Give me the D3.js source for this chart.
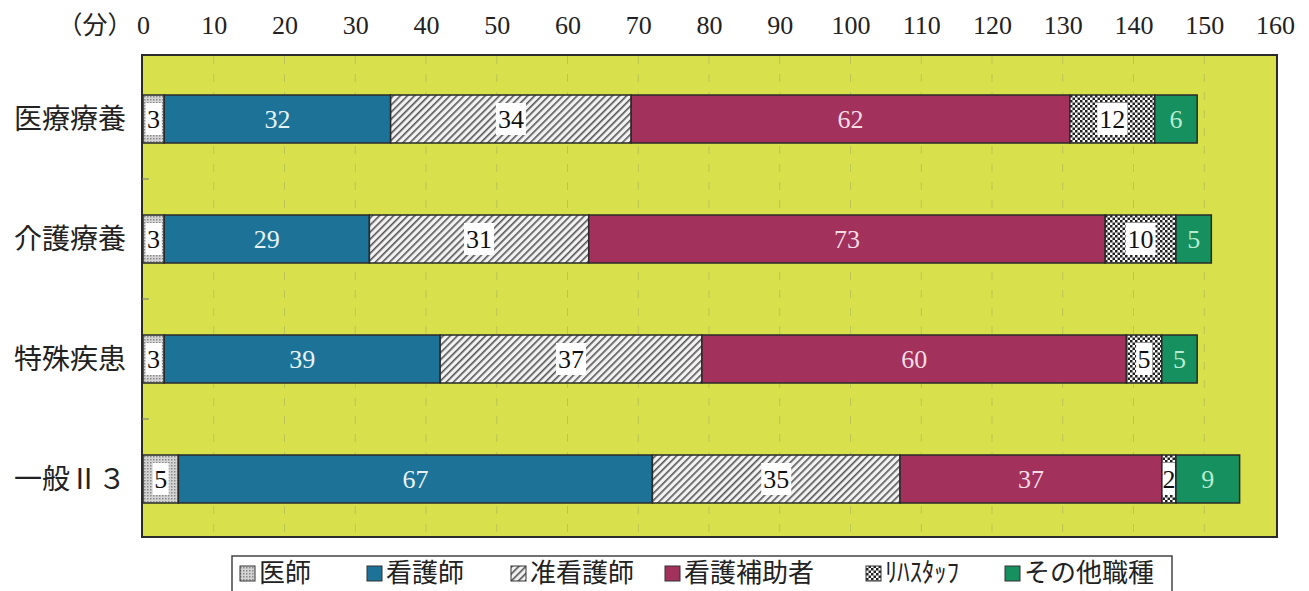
<!DOCTYPE html>
<html>
<head>
<meta charset="utf-8">
<script src="https://cdn.jsdelivr.net/npm/d3@7"></script>
<style>
  body { margin: 0; background: #fff; }
  svg { display: block; }
</style>
</head>
<body>
<div class="canvas"></div>
<script>
// data
const categories = ['医療療養', '介護療養', '特殊疾患', '一般Ⅱ３'];
const seriesNames = ['医師', '看護師', '准看護師', '看護補助者', 'ﾘﾊｽﾀｯﾌ', 'その他職種'];
const doctor = [3, 3, 3, 5];
const nurse = [32, 29, 39, 67];
const assistNurse = [34, 31, 37, 35];
const careAide = [62, 73, 60, 37];
const rehab = [12, 10, 5, 2];
const other = [6, 5, 5, 9];
const xTicks = d3.range(0, 161, 10);

const seriesValues = [doctor, nurse, assistNurse, careAide, rehab, other];
const fills = ['url(#dots)', '#1d7298', 'url(#hatch)', '#a2315b', 'url(#checker)', '#17905f'];
const textColor = ['#111', '#e8f2f6', '#111', '#f3dde5', '#111', '#b8ebcf'];
const boxed = [true, false, true, false, true, false];

const svg = d3.select('.canvas')
  .append('svg')
    .attr('width', 1309)
    .attr('height', 591);

// patterns
const defs = svg.append('defs');
const dots = defs.append('pattern').attr('id', 'dots')
  .attr('width', 3).attr('height', 3).attr('patternUnits', 'userSpaceOnUse');
dots.append('rect').attr('width', 3).attr('height', 3).attr('fill', '#d4d4d4');
dots.append('rect').attr('width', 1.5).attr('height', 1.5).attr('fill', '#8a8a8a');

const hatch = defs.append('pattern').attr('id', 'hatch')
  .attr('width', 5).attr('height', 5).attr('patternUnits', 'userSpaceOnUse')
  .attr('patternTransform', 'rotate(45)');
hatch.append('rect').attr('width', 5).attr('height', 5).attr('fill', '#f2f2f2');
hatch.append('rect').attr('width', 1.6).attr('height', 5).attr('fill', '#555');

const checker = defs.append('pattern').attr('id', 'checker')
  .attr('width', 5).attr('height', 5).attr('patternUnits', 'userSpaceOnUse');
checker.append('rect').attr('width', 5).attr('height', 5).attr('fill', '#fafafa');
checker.append('rect').attr('width', 2.5).attr('height', 2.5).attr('fill', '#222');
checker.append('rect').attr('x', 2.5).attr('y', 2.5).attr('width', 2.5).attr('height', 2.5).attr('fill', '#222');

// scales
const x = d3.scaleLinear().domain([0, 160]).range([143, 1275]);
const y = d3.scaleBand().domain(categories).range([59, 539])
  .paddingInner(0.6).paddingOuter(0.3);

// plot area
svg.append('rect')
  .attr('x', 142).attr('y', 55)
  .attr('width', 1135).attr('height', 482)
  .attr('fill', '#d8e04c')
  .attr('stroke', '#2b2b2b')
  .attr('stroke-width', 2);

// faint grid
svg.append('g').selectAll('line')
  .data(xTicks.slice(1, -1))
  .join('line')
    .attr('x1', d => x(d)).attr('x2', d => x(d))
    .attr('y1', 56).attr('y2', 536)
    .attr('stroke', '#bcc454')
    .attr('stroke-width', 1)
    .attr('stroke-dasharray', '8,10');

// left axis small ticks between categories
svg.append('g').selectAll('line')
  .data([1, 2, 3])
  .join('line')
    .attr('x1', 142).attr('x2', 149)
    .attr('y1', d => 59 + d * y.step()).attr('y2', d => 59 + d * y.step())
    .attr('stroke', '#777').attr('stroke-width', 1);

// top axis
const xAxis = d3.axisTop(x).tickValues(xTicks).tickSize(0).tickPadding(0);
const xAxisGroup = svg.append('g')
  .attr('transform', 'translate(0, 34)')
  .call(xAxis);
xAxisGroup.select('.domain').remove();
xAxisGroup.selectAll('text')
  .attr('font-family', '"Liberation Serif", "DejaVu Serif", serif')
  .attr('font-size', 26)
  .attr('fill', '#222');

svg.append('text')
  .attr('x', 95).attr('y', 34)
  .attr('text-anchor', 'middle')
  .attr('font-family', '"Noto Sans CJK JP", sans-serif')
  .attr('font-size', 25)
  .attr('fill', '#222')
  .text('（分）');

// category labels
svg.append('g').selectAll('text')
  .data(categories)
  .join('text')
    .attr('x', 126)
    .attr('y', d => y(d) + y.bandwidth() / 2)
    .attr('dy', '0.36em')
    .attr('text-anchor', 'end')
    .attr('font-family', '"Noto Sans CJK JP", sans-serif')
    .attr('font-size', 28)
    .attr('fill', '#222')
    .text(d => d);

// stack
const rows = categories.map((c, i) => {
  const r = { cat: c };
  seriesNames.forEach((s, k) => { r[s] = seriesValues[k][i]; });
  return r;
});
const stack = d3.stack().keys(seriesNames)(rows);

const layers = svg.append('g').selectAll('g')
  .data(stack)
  .join('g');

layers.each(function (layer, k) {
  const g = d3.select(this);
  g.selectAll('rect')
    .data(layer)
    .join('rect')
      .attr('x', d => x(d[0]))
      .attr('y', d => y(d.data.cat))
      .attr('width', d => x(d[1]) - x(d[0]))
      .attr('height', y.bandwidth())
      .attr('fill', fills[k])
      .attr('stroke', '#2a2a2a')
      .attr('stroke-width', 1.5);

  const labels = g.selectAll('g.lbl')
    .data(layer)
    .join('g')
      .attr('class', 'lbl')
      .attr('transform', d => `translate(${(x(d[0]) + x(d[1])) / 2}, ${y(d.data.cat) + y.bandwidth() / 2})`);

  if (boxed[k]) {
    // white box behind the label, never wider than the segment
    const boxW = d => Math.min(String(d[1] - d[0]).length > 1 ? 30 : 16, x(d[1]) - x(d[0]) - 2);
    labels.append('rect')
      .attr('x', d => -boxW(d) / 2)
      .attr('y', -16)
      .attr('width', boxW)
      .attr('height', 32)
      .attr('fill', '#fff');
  }
  labels.append('text')
    .attr('dy', '0.35em')
    .attr('text-anchor', 'middle')
    .attr('font-family', '"Liberation Serif", "DejaVu Serif", serif')
    .attr('font-size', 26)
    .attr('fill', textColor[k])
    .text(d => d[1] - d[0]);
});

// legend
const legend = svg.append('g');
legend.append('rect')
  .attr('x', 232).attr('y', 556)
  .attr('width', 940).attr('height', 40)
  .attr('fill', '#fff')
  .attr('stroke', '#444')
  .attr('stroke-width', 1.5);
const legendX = [240, 367, 511, 665, 866, 1005];
const items = legend.selectAll('g.item')
  .data(seriesNames)
  .join('g')
    .attr('class', 'item')
    .attr('transform', (d, i) => `translate(${legendX[i]}, 573)`);
items.append('rect')
  .attr('x', 0).attr('y', -7)
  .attr('width', 15).attr('height', 15)
  .attr('fill', (d, i) => fills[i])
  .attr('stroke', '#333')
  .attr('stroke-width', 1);
items.append('text')
  .attr('x', 19)
  .attr('dy', '0.34em')
  .attr('font-family', '"Noto Sans CJK JP", sans-serif')
  .attr('font-size', 26)
  .attr('fill', '#222')
  .text(d => d);
// the half-width katakana label is drawn condensed in the original
items.filter((d, i) => i === 4).select('text')
  .attr('font-size', 27)
  .attr('textLength', 74)
  .attr('lengthAdjust', 'spacingAndGlyphs');
</script>
</body>
</html>
